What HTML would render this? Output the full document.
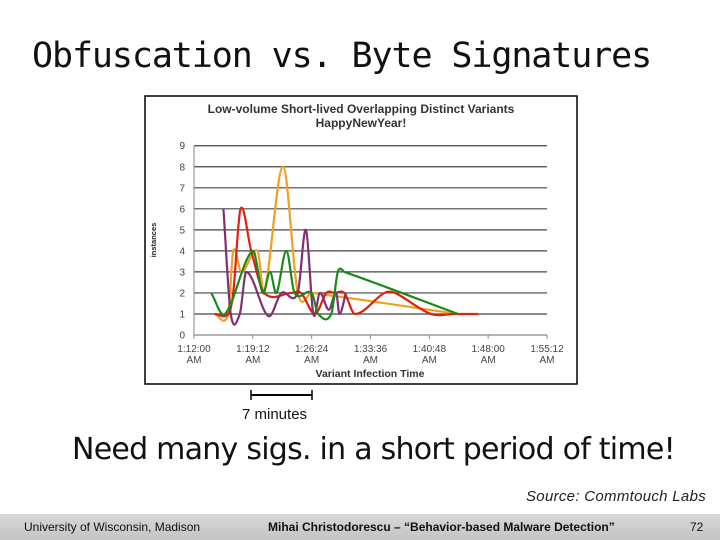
<!DOCTYPE html>
<html><head><meta charset="utf-8"><style>
body{margin:0;width:720px;height:540px;background:#fff;position:relative;overflow:hidden;font-family:"Liberation Sans",sans-serif}
.abs{position:absolute}
</style></head><body>
<div class="abs" style="left:32px;top:36px;font-family:'DejaVu Sans Mono','Liberation Mono',monospace;font-size:35px;letter-spacing:-1.1px;color:#111">Obfuscation vs. Byte Signatures</div>
<svg class="abs" style="left:0;top:0" width="720" height="540">
<rect x="145" y="96" width="432" height="288" fill="#fff" stroke="#000" stroke-width="1.5"/>
<text x="361" y="113" text-anchor="middle" font-size="12" font-weight="bold" fill="#333">Low-volume Short-lived Overlapping Distinct Variants</text>
<text x="361" y="127" text-anchor="middle" font-size="12" font-weight="bold" fill="#333">HappyNewYear!</text>
<text transform="translate(156,240) rotate(-90)" text-anchor="middle" font-size="7.5" font-weight="bold" fill="#222">instances</text>
<text x="370" y="377" text-anchor="middle" font-size="10.5" font-weight="bold" fill="#333">Variant Infection Time</text>
<g id="grid"></g><g id="series"></g>
<g>
<line x1="251" y1="395" x2="312" y2="395" stroke="#000" stroke-width="2"/>
<line x1="251" y1="390" x2="251" y2="400" stroke="#000" stroke-width="1.5"/>
<line x1="312" y1="390" x2="312" y2="400" stroke="#000" stroke-width="1.5"/>
</g>
</svg>
<div class="abs" style="left:242px;top:406px;font-size:15px;color:#111">7 minutes</div>
<div class="abs" style="left:72px;top:432px;font-size:30px;color:#111;font-family:'DejaVu Sans',sans-serif;letter-spacing:-0.75px">Need many sigs. in a short period of time!</div>
<div class="abs" style="left:526px;top:488px;font-size:15px;font-style:italic;color:#222;letter-spacing:0.3px">Source: Commtouch Labs</div>
<div class="abs" style="left:0;top:514px;width:720px;height:26px;background:linear-gradient(#d8d8d8,#c4c4c4)"></div>
<div class="abs" style="left:24px;top:520px;font-size:12px;color:#111">University of Wisconsin, Madison</div>
<div class="abs" style="left:268px;top:520px;font-size:12px;font-weight:bold;color:#111">Mihai Christodorescu – “Behavior-based Malware Detection”</div>
<div class="abs" style="left:690px;top:520px;font-size:12px;color:#111">72</div>
<script>
const yTicks=[0,1,2,3,4,5,6,7,8,9];
const xTickLabels=["1:12:00","1:19:12","1:26:24","1:33:36","1:40:48","1:48:00","1:55:12"];
const xTickMinutes=[0,7.2,14.4,21.6,28.8,36,43.2];
const purpleX=[3.6,4.5,5.6,6.4,9.1,10.7,12.7,13.7,14.6,15.4,16.5,17.4,17.8,18.6];
const purpleY=[6,1,1,3,0.9,2,2,5,1,2,1.2,2,1,2];
const redX=[2.5,4.2,4.8,5.7,7.0,8.6,11.9,13.1,14.8,16.2,17.2,18.4,19.7,23.3,24.6,29.0,31.9,34.8];
const redY=[1,1,2,6,4,2,2,2,1,2,2,2,1,2,2,1,1,1];
const orangeX=[2.5,4.2,4.8,5.8,7.8,8.6,10.9,12.7,14.4,32.3];
const orangeY=[1,1,4,3,4,2,8,2,2,1];
const greenX=[2.1,3.8,7.2,8.4,9.3,10.1,11.3,12.3,14.4,15.2,16.8,17.6,18.4,32.3];
const greenY=[2,1,4,2,3,2,4,2,2,1,1,3,3,1];
const NS="http://www.w3.org/2000/svg";
const X=m=>194+m*(353/43.2), Y=v=>335-v*21.03;
const grid=document.getElementById('grid'),ser=document.getElementById('series');
function mk(t,a,p){const e=document.createElementNS(NS,t);for(const k in a)e.setAttribute(k,a[k]);p.appendChild(e);return e;}
yTicks.forEach(v=>{
 const l=mk('line',{x1:194,x2:547,y1:Y(v),y2:Y(v),stroke:v===0?'#888':'#444','stroke-width':1.2},grid);
 
 
 const t=mk('text',{x:185,y:Y(v)+3.5,'text-anchor':'end','font-size':10,fill:'#444'},grid);t.textContent=v;
 
 
});
mk('line',{x1:194,x2:194,y1:Y(9),y2:Y(0),stroke:'#888'},grid);
xTickMinutes.forEach((m,i)=>{
 mk('line',{x1:X(m),x2:X(m),y1:335,y2:339,stroke:'#888'},grid);
 const t=mk('text',{x:X(m),y:352,'text-anchor':'middle','font-size':10,fill:'#444'},grid);t.textContent=xTickLabels[i];
 
 
 const t2=mk('text',{x:X(m),y:363,'text-anchor':'middle','font-size':10,fill:'#444'},grid);t2.textContent='AM';
 
 
});
function path(xs,ys){const p=xs.map((m,i)=>[X(m),Y(ys[i])]);const n=p.length;
 const s=p.map((q,i)=>{const a=p[Math.max(0,i-1)],b=p[Math.min(n-1,i+1)];return (b[1]-a[1])/(b[0]-a[0]);});
 let d='M'+p[0];
 for(let i=0;i<n-1;i++){const dx=(p[i+1][0]-p[i][0])/3;
  d+=' C'+(p[i][0]+dx)+','+(p[i][1]+s[i]*dx)+' '+(p[i+1][0]-dx)+','+(p[i+1][1]-s[i+1]*dx)+' '+p[i+1];}
 return d;}
[[orangeX,orangeY,'#f0a020','series-orange'],[redX,redY,'#e02010','series-red'],[purpleX,purpleY,'#803070','series-purple'],[greenX,greenY,'#1a8a1a','series-green']].forEach(s=>{
 const e=mk('path',{d:path(s[0],s[1]),fill:'none',stroke:s[2],'stroke-width':2.2},ser);
 
 
});
</script>
</body></html>
